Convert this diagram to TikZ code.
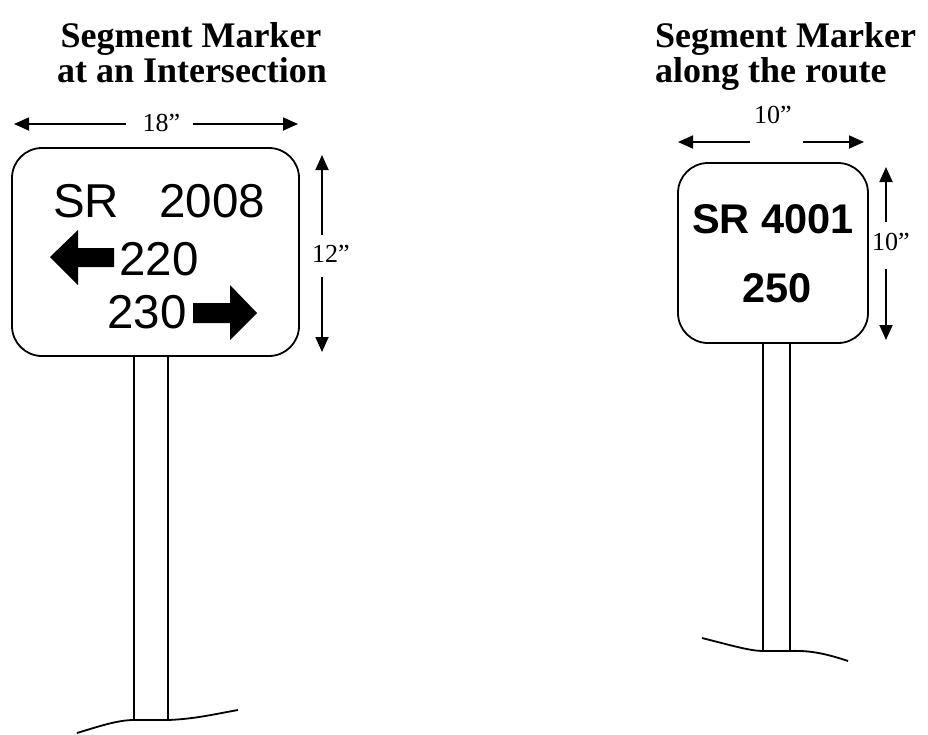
\documentclass[tikz,border=0pt]{standalone}
\usepackage{fontspec}
\setmainfont{Liberation Serif}
\newfontfamily\signfont{Liberation Sans}
\usetikzlibrary{arrows.meta}
\begin{document}
\begin{tikzpicture}[x=1pt,y=-1pt,
  outline/.style={line width=1.8pt, line join=round},
  signboard/.style={draw, line width=1.8pt, rounded corners=30pt, inner sep=0pt},
  dim/.style={line width=1.8pt, -{Triangle[length=15pt,width=13pt]}},
  dimlabel/.style={font=\fontsize{26}{30}\selectfont, inner sep=0pt},
  title/.style={font=\fontsize{36}{40}\selectfont\bfseries, inner sep=0pt},
  signtext/.style={font=\signfont\fontsize{47.5}{52}\selectfont, inner sep=0pt},
  signbold/.style={font=\signfont\fontsize{41.5}{46}\selectfont\bfseries, inner sep=0pt},
  blockarrow/.style={fill=black, draw=none}]
\useasboundingbox (0,0) rectangle (928,734);

% ---------- titles ----------
\node[title, anchor=base] (tA1) at (191,47) {Segment Marker};
\node[title, anchor=base] (tA2) at (192,82) {at an Intersection};
\node[title, anchor=base west] (tB1) at (655,47) {Segment Marker};
\node[title, anchor=base west] (tB2) at (655,82) {along the route};

% ---------- intersection marker ----------
\node[signboard, minimum width=287pt, minimum height=208pt] (signA) at (155.5,252) {};
\node[signtext, anchor=base west] (srA) at (53,217) {SR};
\node[signtext, anchor=base west] (numA) at (159,217) {2008};
\node[signtext, anchor=base west] (lA) at (119,275) {220};
\node[signtext, anchor=base west] (rA) at (107,328) {230};
% left-turn block arrow
\fill[blockarrow] (50,257) -- (78,230) -- (78,248) -- (114,248) -- (114,267)
  -- (78,267) -- (78,285) -- cycle;
% right-turn block arrow
\fill[blockarrow] (257,313) -- (230,285) -- (230,303) -- (193,303) -- (193,323)
  -- (230,323) -- (230,340) -- cycle;

% post and ground
\coordinate (pAtl) at (134,356);
\coordinate (pAbl) at (134,720);
\coordinate (pAbr) at (168,720);
\coordinate (pAtr) at (168,356);
\draw[outline] (pAtl) -- (pAbl) -- (pAbr) -- (pAtr);
\coordinate (gA1) at (77,733);
\coordinate (gA2) at (238,710);
\draw[outline] (gA1) .. controls (100,726) and (118,720) .. (pAbl)
  (pAbr) .. controls (195,719) and (215,714) .. (gA2);

% width dimension 18"
\node[dimlabel] (w18) at (161.5,123) {18”};
\coordinate (w18L) at (14,124);
\coordinate (w18Li) at (126,124);
\coordinate (w18R) at (298,124);
\coordinate (w18Ri) at (193,124);
\draw[dim] (w18Li) -- (w18L);
\draw[dim] (w18Ri) -- (w18R);

% height dimension 12"
\node[dimlabel] (h12) at (331,254) {12”};
\coordinate (h12T) at (322,155);
\coordinate (h12Ti) at (322,235);
\coordinate (h12B) at (322,352);
\coordinate (h12Bi) at (322,277);
\draw[dim] (h12Ti) -- (h12T);
\draw[dim] (h12Bi) -- (h12B);

% ---------- route marker ----------
\node[signboard, minimum width=190pt, minimum height=180pt] (signB) at (773,253) {};
\node[signbold, anchor=base] (srB) at (773,233) {SR 4001};
\node[signbold, anchor=base] (numB) at (777,302) {250};

% post and ground
\coordinate (pBtl) at (763,343);
\coordinate (pBbl) at (763,651);
\coordinate (pBbr) at (790,651);
\coordinate (pBtr) at (790,343);
\draw[outline] (pBtl) -- (pBbl) -- (pBbr) -- (pBtr);
\coordinate (gB1) at (702,638);
\coordinate (gB2) at (848,661);
\draw[outline] (gB1) .. controls (730,645) and (750,651) .. (pBbl)
  (pBbr) .. controls (812,650) and (830,655) .. (gB2);

% width dimension 10"
\node[dimlabel] (w10) at (773,115) {10”};
\coordinate (w10L) at (678,142);
\coordinate (w10Li) at (750,142);
\coordinate (w10R) at (864,142);
\coordinate (w10Ri) at (803,142);
\draw[dim] (w10Li) -- (w10L);
\draw[dim] (w10Ri) -- (w10R);

% height dimension 10"
\node[dimlabel] (h10) at (891,242) {10”};
\coordinate (h10T) at (886,167);
\coordinate (h10Ti) at (886,222);
\coordinate (h10B) at (886,340);
\coordinate (h10Bi) at (886,269);
\draw[dim] (h10Ti) -- (h10T);
\draw[dim] (h10Bi) -- (h10B);
\end{tikzpicture}
\end{document}
